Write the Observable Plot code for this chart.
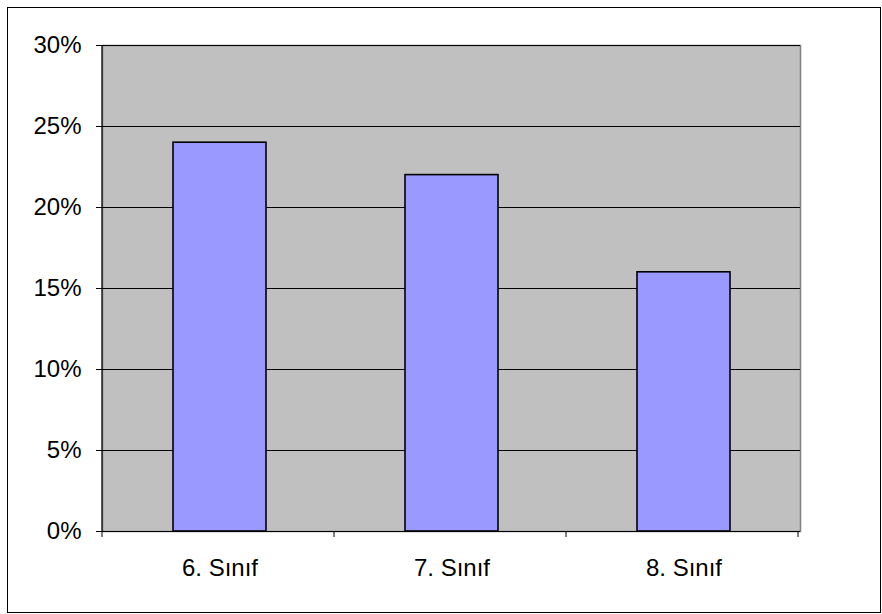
<!DOCTYPE html>
<html>
<head>
<meta charset="utf-8">
<script src="https://cdn.jsdelivr.net/npm/d3@7"></script>
<script src="https://cdn.jsdelivr.net/npm/@observablehq/plot@0.6"></script>
<style>
  html, body { margin: 0; padding: 0; background: #fff; }
  #wrap { position: relative; width: 882px; height: 614px; }
  #border { position: absolute; left: 7px; top: 7px; width: 872px; height: 604px; border: 1px solid #000; box-sizing: content-box; pointer-events: none; }
  svg { font-family: "Liberation Sans", Arial, sans-serif; }
  svg text { font-size: 24px; fill: #000; }
</style>
</head>
<body>
<div id="wrap"><div id="border"></div></div>
<script>
const categories = ["6. Sınıf", "7. Sınıf", "8. Sınıf"];
const values = [0.24, 0.22, 0.16];
const yTicks = [0, 0.05, 0.10, 0.15, 0.20, 0.25, 0.30];

const data = categories.map((c, i) => ({category: c, value: values[i]}));

const plot = Plot.plot({
  width: 882,
  height: 614,
  marginLeft: 102,
  marginRight: 82,
  marginTop: 45,
  marginBottom: 83,
  style: {fontSize: "24px", fontFamily: "'Liberation Sans', Arial, sans-serif", color: "#000", background: "transparent"},
  x: {domain: categories, paddingInner: 0.6, paddingOuter: 0.3, label: null},
  y: {domain: [0, 0.3], label: null},
  marks: [
    Plot.frame({fill: "#c0c0c0", stroke: "#808080", strokeWidth: 1.5}),
    Plot.ruleY(yTicks, {stroke: "#000", strokeWidth: 1}),
    Plot.barY(data, {x: "category", y: "value", fill: "#9999ff", stroke: "#000", strokeWidth: 1.6}),
    Plot.axisY({ticks: yTicks, tickFormat: d3.format(".0%"), tickSize: 6, tickPadding: 15, stroke: "#000", label: null}),
    Plot.axisX({tickSize: 0, tickPadding: 27, label: null}),
    Plot.ruleY([0], {stroke: "#000", strokeWidth: 1.2})
  ]
});

// left axis line and category boundary ticks, from the x scale
const xs = plot.scale("x");
const ys = plot.scale("y");
const svg = d3.select(plot);
const y0 = ys.range[0], y1 = ys.range[1];
const x0 = xs.range[0];
const g = svg.append("g").attr("stroke", "#000");
g.append("line").attr("x1", x0).attr("x2", x0).attr("y1", y1).attr("y2", y0).attr("stroke-width", 1.2);
for (let i = 0; i <= categories.length; i++) {
  const xp = x0 + i * xs.step;
  g.append("line").attr("x1", xp).attr("x2", xp).attr("y1", y0).attr("y2", y0 + 6).attr("stroke-width", 1);
}
document.getElementById("wrap").prepend(plot);
</script>
</body>
</html>
